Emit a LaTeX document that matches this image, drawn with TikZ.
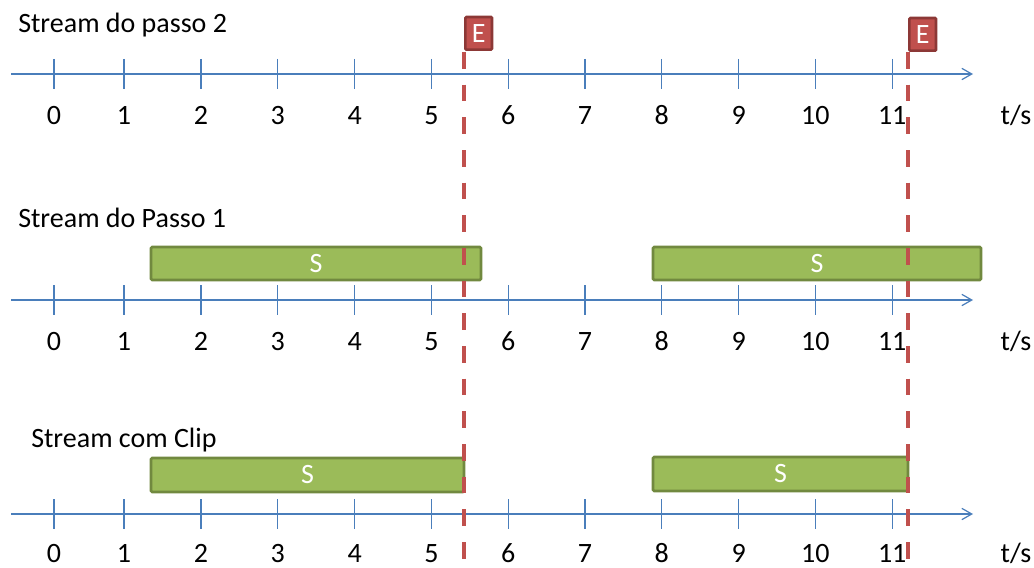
\documentclass[tikz,border=0pt]{standalone}
\usepackage{fontspec}
\setmainfont{Carlito}
\usetikzlibrary{arrows.meta}

\definecolor{ejeazul}{HTML}{4A7EBB}
\definecolor{verdeS}{HTML}{9BBB59}
\definecolor{verdeborde}{HTML}{71893F}
\definecolor{rojoE}{HTML}{C0504D}
\definecolor{rojoborde}{HTML}{8C3836}

\tikzset{
    eje/.style={draw=ejeazul, line width=0.9pt, -{Straight Barb[length=7.5pt,width=8.5pt]}},
    marca/.style={draw=ejeazul, line width=0.8pt},
    etiqueta/.style={anchor=base, inner sep=0pt, font=\fontsize{21}{25}\selectfont},
    titulo/.style={anchor=base west, inner sep=0pt, font=\fontsize{21}{25}\selectfont},
    barraS/.style={draw=verdeborde, fill=verdeS, line width=2pt, rounded corners=1pt},
    textoS/.style={text=white, inner sep=0pt, font=\fontsize{21}{25}\selectfont},
    corte/.style={draw=rojoE, line width=3pt, dash pattern=on 12.5pt off 12pt},
    cajaE/.style={draw=rojoborde, fill=rojoE, line width=2pt, text=white, rounded corners=0.8pt,
        minimum width=20pt, minimum height=24.5pt, inner sep=0pt, font=\fontsize{21}{25}\selectfont}
}

\begin{document}
\begin{tikzpicture}[x=0.75pt,y=-0.75pt]

    \useasboundingbox (0,0) rectangle (1034,567);

    % Titulos
    \node[titulo] (tit1) at (18,33) {Stream do passo 2};
    \node[titulo] (tit2) at (18,227) {Stream do Passo 1};
    \node[titulo] (tit3) at (31,447) {Stream com Clip};

    % Ejes de tiempo
    \foreach \y/\d [count=\k] in {74/50, 300/50, 514/48} {
        \coordinate (ini\k) at (11,\y);
        \coordinate (fin\k) at (973,\y);
        \draw[eje] (ini\k) -- (fin\k);
        \foreach \n/\x in {
            0/54, 1/124, 2/201, 3/277.8, 4/354.6, 5/431.4,
            6/508.2, 7/585, 8/661.8, 9/738.6, 10/815.4, 11/892.2
        }{
            \draw[marca] (\x,\y-15) -- (\x,\y+15);
            \node[etiqueta] (n\k-\n) at (\x,\y+\d) {\n};
        }
        \node[etiqueta] (ts\k) at (1016,\y+\d) {t/s};
    }

    % Segmentos S
    \foreach \xa/\xb/\ya/\yb [count=\i] in {
        151/481/247/280, 653/981/247/280,
        151/464/458/492, 653/908/457/491
    }{
        \draw[barraS] (\xa,\ya) rectangle (\xb,\yb);
        \node[textoS] (s\i) at ({(\xa+\xb)/2},{(\ya+\yb)/2}) {S};
    }

    % Cortes E
    \foreach \x/\xe/\ye [count=\j] in {464/464/51, 908/908/52} {
        \coordinate (topo\j) at (\x,52);
        \coordinate (base\j) at (\x,567);
        \draw[corte] (topo\j) -- (base\j);
        \node[cajaE, anchor=south west] (e\j) at (\xe,\ye) {E};
    }

\end{tikzpicture}
\end{document}
